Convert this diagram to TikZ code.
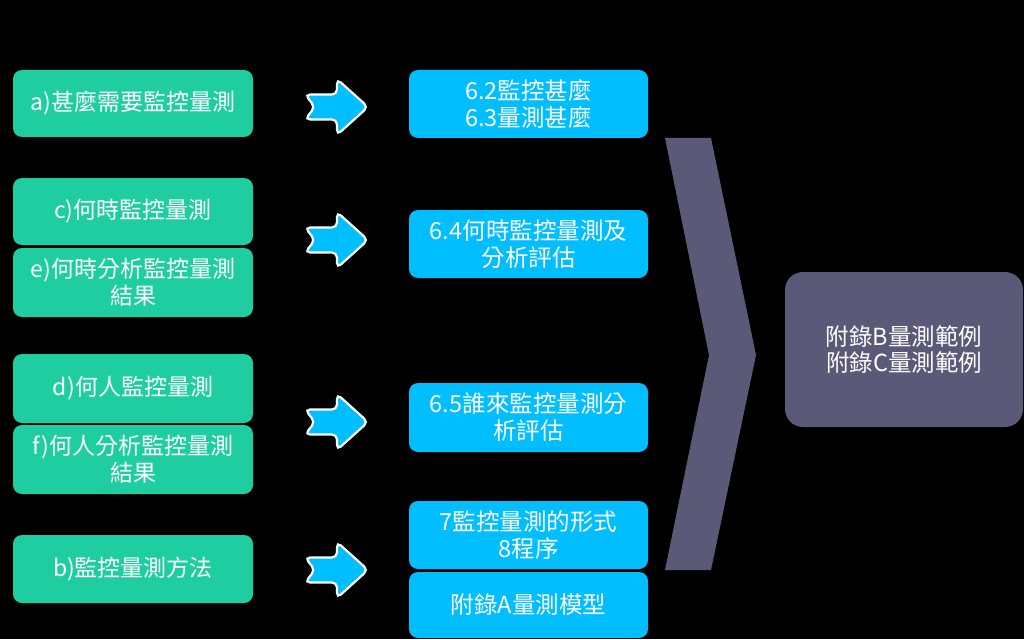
\documentclass[tikz,border=0pt]{standalone}
\usepackage{fontspec}
\setmainfont{Noto Sans CJK TC}
\usetikzlibrary{calc}
\definecolor{mint}{RGB}{31,206,160}
\definecolor{sky}{RGB}{0,190,255}
\definecolor{slate}{RGB}{90,90,120}
\tikzset{
	leftbox/.style={fill=mint, rounded corners=9pt, minimum width=240pt, text width=236pt, align=center, inner sep=0pt, text=white, font=\fontsize{23}{27}\selectfont},
	rightbox/.style={fill=sky, rounded corners=9pt, minimum width=239pt, text width=235pt, align=center, inner sep=0pt, text=white, font=\fontsize{23.5}{27}\selectfont},
	endbox/.style={fill=slate, rounded corners=18pt, minimum width=238pt, minimum height=155pt, align=center, inner sep=0pt, text=white, font=\fontsize{23.5}{26}\selectfont}
}
\def\blockarrow(#1){\draw[fill=sky, draw=white, line width=2.2pt, rounded corners=5pt] ($(#1)+(-32,-12.5)$) -- ($(#1)+(0,-12.5)$) -- ($(#1)+(0,-28)$) -- ($(#1)+(31,0)$) -- ($(#1)+(0,28)$) -- ($(#1)+(0,12.5)$) -- ($(#1)+(-32,12.5)$) -- ($(#1)+(-22,0)$) -- cycle;}

\begin{document}
\begin{tikzpicture}[x=1pt, y=-1pt]
			%%%%% START %%%%%
			
			\fill[black] (0, 0) rectangle (1024, 639);
			\useasboundingbox (0, 0) rectangle (1024, 639);
			
			\node[leftbox, minimum height=67pt] (what) at (133, 103.5) {a)甚麼需要監控量測};
			\node[leftbox, minimum height=67pt] (when) at (133, 211.5) {c)何時監控量測};
			\node[leftbox, minimum height=69pt] (whenres) at (133, 282.5) {e)何時分析監控量測\\結果};
			\node[leftbox, minimum height=69pt] (who) at (133, 388.5) {d)何人監控量測};
			\node[leftbox, minimum height=69pt] (whores) at (133, 459.5) {f)何人分析監控量測\\結果};
			\node[leftbox, minimum height=68pt] (how) at (133, 569) {b)監控量測方法};
			
			\node[rightbox, minimum height=68pt] (sec62) at (528.5, 104) {6.2監控甚麼\\6.3量測甚麼};
			\node[rightbox, minimum height=68pt] (sec64) at (528.5, 244) {6.4何時監控量測及\\分析評估};
			\node[rightbox, minimum height=69pt] (sec65) at (528.5, 417.5) {6.5誰來監控量測分\\析評估};
			\node[rightbox, minimum height=68pt] (sec78) at (528.5, 535) {7監控量測的形式\\8程序};
			\node[rightbox, minimum height=66pt] (appa) at (528.5, 605) {附錄A量測模型};
			
			\coordinate (arr1) at (337, 107);
			\coordinate (arr2) at (337, 240);
			\coordinate (arr3) at (337, 422);
			\coordinate (arr4) at (337, 570);
			\blockarrow(arr1);
			\blockarrow(arr2);
			\blockarrow(arr3);
			\blockarrow(arr4);
			
			\fill[slate] (665, 138) -- (711, 138) -- (756, 355) -- (711, 570) -- (665, 570) -- (709, 355) -- cycle;
			
			\node[endbox] (appbc) at (904, 349.5) {附錄B量測範例\\附錄C量測範例};
			
			%%%%% END %%%%%
		\end{tikzpicture}
\end{document}
